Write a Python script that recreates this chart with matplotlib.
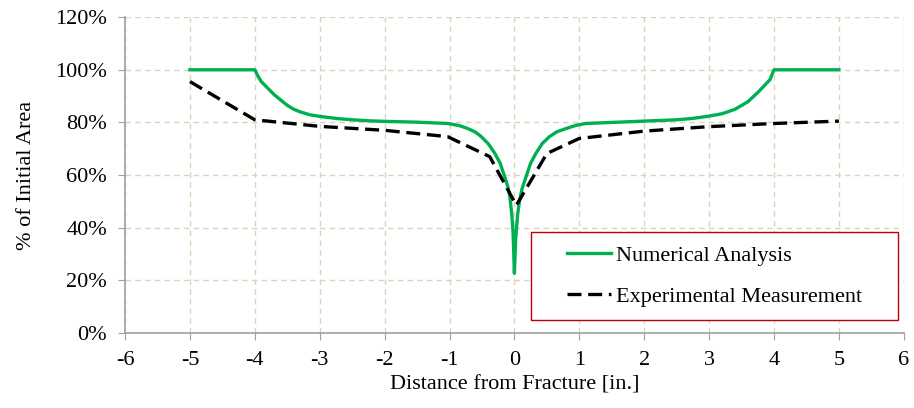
import matplotlib
matplotlib.use("Agg")
import matplotlib.pyplot as plt
from matplotlib.patches import Rectangle
from matplotlib.ticker import PercentFormatter

plt.rcParams["font.family"] = ["Liberation Serif", "DejaVu Serif"]
plt.rcParams["axes.unicode_minus"] = False

# numerical analysis (% of initial area vs distance from fracture)
num_x = [-5, -4, -3.95, -3.9, -3.8, -3.7, -3.6, -3.5, -3.4, -3.3, -3.15, -3.0,
         -2.74, -2.5, -2.23, -2.0, -1.5, -1.03, -0.85, -0.72, -0.6, -0.51, -0.4,
         -0.3, -0.22, -0.15, -0.1, -0.07, -0.04, -0.02, 0.0, 0.02, 0.05, 0.08,
         0.12, 0.18, 0.25, 0.33, 0.43, 0.54, 0.66, 0.8, 0.95, 1.1, 1.5, 2.0,
         2.5, 2.74, 3.0, 3.2, 3.4, 3.6, 3.76, 3.94, 4.0, 5.0]
num_y = [100, 100, 97.5, 95.5, 93, 90.5, 88.5, 86.5, 85, 84, 82.9, 82.3,
         81.5, 81, 80.6, 80.4, 80.1, 79.6, 78.8, 77.7, 76.3, 74.6, 71.8,
         68.2, 64.5, 59.4, 55.5, 51.8, 45, 38, 22.7, 36, 45, 50.5,
         55, 59.4, 64.5, 68.2, 72, 74.6, 76.5, 77.7, 78.9, 79.6, 80, 80.5,
         81, 81.5, 82.4, 83.3, 85, 87.9, 91.6, 96.3, 100, 100]

# experimental measurement
exp_x = [-5, -4, -3, -2, -1.03, -0.38, 0.03, 0.5, 1.0, 2.0, 3.0, 4.0, 5.0]
exp_y = [95.5, 81, 78.5, 77, 74.6, 67, 48.5, 68.2, 73.9, 76.7, 78.4, 79.6, 80.5]

x_ticks = list(range(-6, 7))
y_ticks = list(range(0, 121, 20))

fig = plt.figure(figsize=(9.14, 4.08), dpi=100)
ax = fig.add_axes([0.1368, 0.1838, 0.852, 0.7742])

ax.plot(num_x, num_y, color="#00b050", lw=2.4, label="Numerical Analysis", zorder=3)
ax.plot(exp_x, exp_y, color="black", lw=2.4, dashes=(4.2, 2.0),
        label="Experimental Measurement", zorder=3)

ax.set_xlim(-6, 6)
ax.set_ylim(0, 120)
ax.set_xticks(x_ticks)
ax.set_yticks(y_ticks)
ax.yaxis.set_major_formatter(PercentFormatter(decimals=0))
ax.grid(True, color="#d9d4bc", ls=(0, (4, 3)), lw=1)
ax.set_axisbelow(True)

for s in ["top", "right"]:
    ax.spines[s].set_visible(False)
for s in ["left", "bottom"]:
    ax.spines[s].set_color("#a0a0a0")
    ax.spines[s].set_linewidth(1.2)
ax.tick_params(direction="out", length=5, color="#a0a0a0", labelsize=16,
               pad=8)

ax.set_xlabel("Distance from Fracture [in.]", fontsize=16, labelpad=4)
ax.set_ylabel("% of Initial Area", fontsize=16, labelpad=14)

# legend box drawn by hand
ax.add_patch(Rectangle((0.521, 0.041), 0.471, 0.279, transform=ax.transAxes,
                       fill=True, facecolor="white", edgecolor="#c00000",
                       lw=1, zorder=4))
ax.legend(loc="center", bbox_to_anchor=(0.757, 0.180), frameon=False,
          fontsize=16, handlelength=2.0, handletextpad=0.2,
          labelspacing=0.95).set_zorder(5)

fig.savefig("out.png", dpi=100)
